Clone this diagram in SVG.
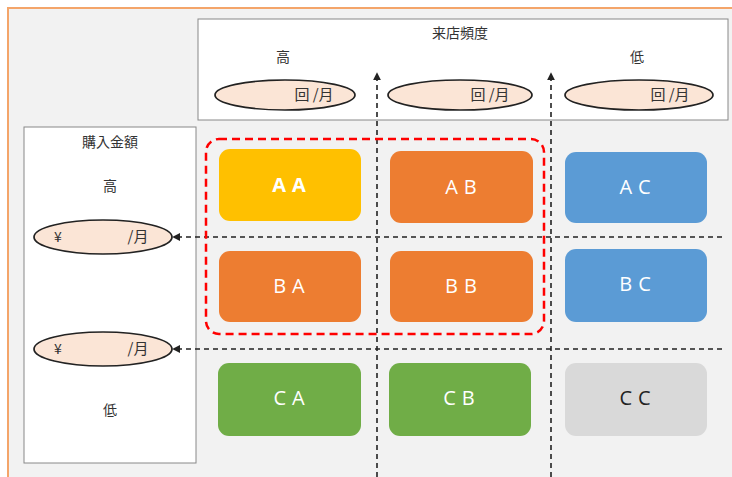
<svg xmlns="http://www.w3.org/2000/svg" width="732" height="477" viewBox="0 0 732 477">
<defs>
<style>
.jp{font-family:"Noto Sans CJK JP","Noto Sans",sans-serif;font-size:14px;fill:#333;text-anchor:middle}
.ell{fill:#fbe5d6;stroke:#222;stroke-width:1.7}
.box{stroke:none}
.lbl{font-family:"Open Sans","Noto Sans",sans-serif;font-size:20px;font-weight:400;fill:#fff;text-anchor:middle;letter-spacing:6px}
.dash{stroke:#222;stroke-width:1.6;stroke-dasharray:5,4;fill:none}
</style>
<marker id="ah" viewBox="0 0 10 10" refX="9" refY="5" markerWidth="5" markerHeight="5" orient="auto-start-reverse">
<path d="M0,0 L10,5 L0,10 z" fill="#222"/>
</marker>
</defs>
<rect x="0" y="0" width="732" height="477" fill="#fff"/>
<rect x="8" y="8" width="740" height="490" fill="#f2f2f2" stroke="#f4a56a" stroke-width="2"/>

<g id="header">
<rect x="198" y="19" width="530" height="101" fill="#fff" stroke="#888" stroke-width="1"/>
<text class="jp" x="460" y="38">来店頻度</text>
<text class="jp" x="283" y="62">高</text>
<text class="jp" x="637" y="62">低</text>
</g>
<g id="freq-high"><ellipse class="ell" cx="285" cy="95" rx="70" ry="15"/><text class="jp" x="314" y="100" style="font-size:15px">回 /月</text></g>
<g id="freq-mid"><ellipse class="ell" cx="460" cy="95" rx="72" ry="15"/><text class="jp" x="490" y="100" style="font-size:15px">回 /月</text></g>
<g id="freq-low"><ellipse class="ell" cx="639" cy="95" rx="74" ry="15"/><text class="jp" x="670" y="100" style="font-size:15px">回 /月</text></g>

<g id="side">
<rect x="24" y="127" width="172" height="336" fill="#fff" stroke="#888" stroke-width="1"/>
<text class="jp" x="110" y="147">購入金額</text>
<text class="jp" x="110" y="191">高</text>
<text class="jp" x="110" y="415">低</text>
</g>
<g id="amount-high"><ellipse class="ell" cx="103" cy="237" rx="69" ry="17"/><text class="jp" x="58" y="242">¥</text><text class="jp" x="138" y="242" style="font-size:15px">/月</text></g>
<g id="amount-low"><ellipse class="ell" cx="103" cy="349" rx="69" ry="17"/><text class="jp" x="58" y="354">¥</text><text class="jp" x="138" y="354" style="font-size:15px">/月</text></g>

<g id="connectors">
<line class="dash" x1="377" y1="477" x2="377" y2="73" marker-end="url(#ah)"/>
<line class="dash" x1="551" y1="477" x2="551" y2="73" marker-end="url(#ah)"/>
<line class="dash" x1="722" y1="237" x2="173" y2="237" marker-end="url(#ah)"/>
<line class="dash" x1="722" y1="349" x2="173" y2="349" marker-end="url(#ah)"/>
</g>

<g id="highlight">
<rect x="206" y="139" width="338" height="195" rx="13" fill="none" stroke="#ff0000" stroke-width="2.5" stroke-dasharray="8,5"/>
</g>

<g id="AA"><rect class="box" x="219" y="149" width="142" height="72" rx="11" fill="#ffc000"/><text class="lbl" x="292" y="192" style="font-weight:bold">AA</text></g>
<g id="AB"><rect class="box" x="390" y="151" width="143" height="72" rx="11" fill="#ed7d31"/><text class="lbl" x="464" y="194">AB</text></g>
<g id="AC"><rect class="box" x="565" y="152" width="142" height="71" rx="11" fill="#5b9bd5"/><text class="lbl" x="638" y="194">AC</text></g>
<g id="BA"><rect class="box" x="219" y="251" width="142" height="71" rx="11" fill="#ed7d31"/><text class="lbl" x="292" y="293">BA</text></g>
<g id="BB"><rect class="box" x="390" y="251" width="143" height="71" rx="11" fill="#ed7d31"/><text class="lbl" x="464" y="293">BB</text></g>
<g id="BC"><rect class="box" x="565" y="249" width="142" height="73" rx="11" fill="#5b9bd5"/><text class="lbl" x="638" y="291">BC</text></g>
<g id="CA"><rect class="box" x="218" y="363" width="143" height="73" rx="11" fill="#70ad47"/><text class="lbl" x="292" y="405">CA</text></g>
<g id="CB"><rect class="box" x="389" y="363" width="142" height="73" rx="11" fill="#70ad47"/><text class="lbl" x="462" y="405">CB</text></g>
<g id="CC"><rect class="box" x="565" y="363" width="142" height="73" rx="11" fill="#d9d9d9"/><text class="lbl" x="638" y="405" style="fill:#222">CC</text></g>
</svg>
